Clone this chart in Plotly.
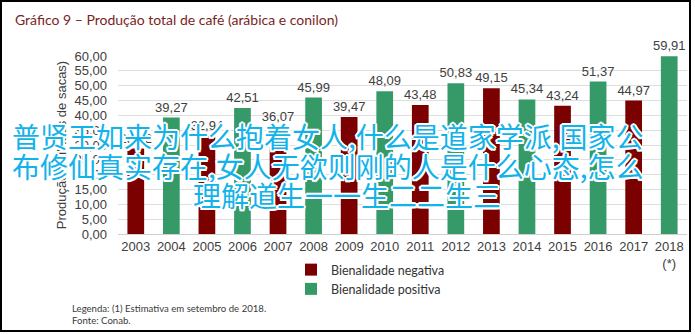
import plotly.graph_objects as go

# ---------------- data ----------------
categories = ["2003", "2004", "2005", "2006", "2007", "2008", "2009", "2010",
              "2011", "2012", "2013", "2014", "2015", "2016", "2017", "2018"]
tick_labels = ["2003", "2004", "2005", "2006", "2007", "2008", "2009", "2010",
               "2011", "2012", "2013", "2014", "2015", "2016", "2017", "2018<br>(*)"]
neg_years = ["2003", "2005", "2007", "2009", "2011", "2013", "2015", "2017"]
neg_values = [28.82, 32.94, 36.07, 39.47, 43.48, 49.15, 43.24, 44.97]
pos_years = ["2004", "2006", "2008", "2010", "2012", "2014", "2016", "2018"]
pos_values = [39.27, 42.51, 45.99, 48.09, 50.83, 45.34, 51.37, 59.91]
y_tick_values = [0, 5, 10, 15, 20, 25, 30, 35, 40, 45, 50, 55, 60]

title_text = "Gráfico 9 – Produção total de café (arábica e conilon)"
y_title = "Produção (milhões de sacas)"
footer_lines = ["Legenda: (1) Estimativa em setembro de 2018.", "Fonte: Conab."]
overlay_lines = ["普贤王如来为什么抱着女人,什么是道家学派,国家公",
                 "布修仙真实存在,女人无欲则刚的人是什么心态,怎么",
                 "理解道生一一生二二生三"]

RED = "#7b0000"
GREEN = "#369a68"

# ---------------- geometry helpers ----------------
W, H = 695, 334
ML, MR, MT, MB = 118, 8, 56, 100
PW = W - ML - MR
PH = H - MT - MB


def px2x(px):
    return (px - ML) / PW


def py2y(py):
    return (H - MB - py) / PH


num_font = dict(family="Liberation Sans, Arial", size=13, color="#404040")

fig = go.Figure()
fig.add_trace(go.Bar(
    x=neg_years, y=neg_values, name="Bienalidade negativa",
    marker=dict(color=RED, line=dict(width=0)),
    texttemplate="%{y:.2f}", textposition="outside", textfont=num_font,
    constraintext="none", cliponaxis=False,
))
fig.add_trace(go.Bar(
    x=pos_years, y=pos_values, name="Bienalidade positiva",
    marker=dict(color=GREEN, line=dict(width=0)),
    texttemplate="%{y:.2f}", textposition="outside", textfont=num_font,
    constraintext="none", cliponaxis=False,
))

annotations = [
    dict(text=title_text, xref="paper", yref="paper", x=px2x(13), y=py2y(20),
         xanchor="left", yanchor="middle", showarrow=False,
         font=dict(family="Lato, Open Sans", size=14, color="#7a1e1e")),
    dict(text=footer_lines[0], xref="paper", yref="paper", x=px2x(70), y=py2y(308),
         xanchor="left", yanchor="middle", showarrow=False,
         font=dict(family="Lato, Open Sans", size=9.6, color="#3a3a3a")),
    dict(text=footer_lines[1], xref="paper", yref="paper", x=px2x(70), y=py2y(320),
         xanchor="left", yanchor="middle", showarrow=False,
         font=dict(family="Lato, Open Sans", size=9.6, color="#3a3a3a")),
]

overlay_pos = [(328, 136), (328, 166), (347, 195)]
outline = ("1.5px 1.5px 0 #fff, -1.5px -1.5px 0 #fff, 1.5px -1.5px 0 #fff, "
           "-1.5px 1.5px 0 #fff, 0 2px 0 #fff, 0 -2px 0 #fff, 2px 0 0 #fff, -2px 0 0 #fff")
for line, (cx, cy) in zip(overlay_lines, overlay_pos):
    annotations.append(dict(
        text=line, xref="paper", yref="paper", x=px2x(cx), y=py2y(cy),
        xanchor="center", yanchor="middle", showarrow=False,
        font=dict(family="Noto Sans CJK SC", size=28, color="#12b3ea", shadow=outline),
    ))

fig.update_layout(
    width=W, height=H,
    margin=dict(l=ML, r=MR, t=MT, b=MB),
    paper_bgcolor="white", plot_bgcolor="white",
    separators=",.",
    barmode="overlay",
    bargap=0.53,
    showlegend=True,
    legend=dict(x=px2x(291), y=py2y(255), xanchor="left", yanchor="top",
                orientation="v", itemwidth=30, tracegroupgap=0,
                font=dict(family="Lato, Open Sans", size=12.5, color="#333333"),
                bgcolor="rgba(0,0,0,0)"),
    annotations=annotations,
    shapes=[dict(type="rect", xref="paper", yref="paper",
                 x0=px2x(1), x1=px2x(690), y0=py2y(331), y1=py2y(1),
                 line=dict(color="black", width=2), fillcolor="rgba(0,0,0,0)",
                 layer="above")],
    xaxis=dict(type="category", categoryorder="array", categoryarray=categories,
               tickmode="array", tickvals=categories, ticktext=tick_labels,
               tickfont=num_font, showline=True, linecolor="#d0d0d0", linewidth=1,
               showgrid=False, ticks="", fixedrange=True),
    yaxis=dict(range=[0, 60], tickmode="array", tickvals=y_tick_values,
               tickformat=".2f", tickfont=num_font, showgrid=True,
               gridcolor="#dedede", gridwidth=1, zeroline=False, showline=False,
               ticks="", ticklabelstandoff=10,
               title=dict(text=y_title, font=dict(family="Liberation Sans, Arial", size=13,
                                                  color="#404040"), standoff=4)),
)

fig.write_html("out.html")
